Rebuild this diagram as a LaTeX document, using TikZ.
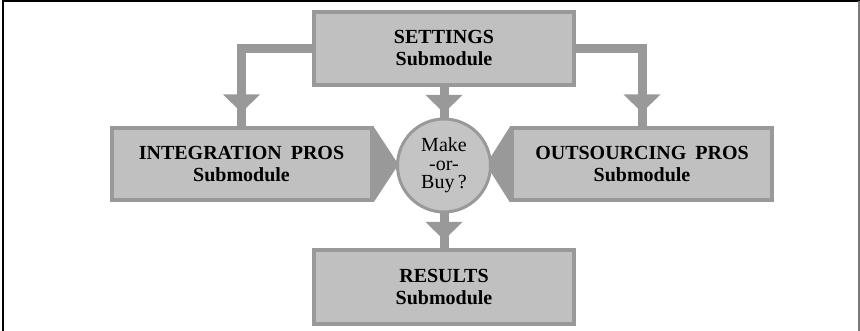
\documentclass[tikz,border=0pt]{standalone}
\usepackage{fontspec}
\setmainfont{Liberation Serif}
\usetikzlibrary{calc}
\definecolor{boxfill}{HTML}{C0C0C0}
\definecolor{boxline}{HTML}{999999}
\definecolor{circfill}{HTML}{C4C4C4}
\tikzset{
  modbox/.style={draw=boxline, fill=boxfill, line width=4pt, inner sep=0pt,
    minimum width=260pt, align=center, font=\fontsize{20}{22}\selectfont\bfseries},
  decision/.style={circle, draw=boxline, fill=circfill, line width=3pt, inner sep=0pt,
    minimum size=93pt, align=center, font=\fontsize{20}{18.5}\selectfont},
  conn/.style={draw=boxline, line width=9pt},
  tri/.style={fill=boxline},
}
\newcommand{\downtri}[1]{\fill[tri] #1 ++(-18.5,0) -- ++(37,0) -- ++(-18.5,18) -- cycle;}
\begin{document}
\begin{tikzpicture}[x=1pt,y=-1pt]
\useasboundingbox (0,0) rectangle (860,331);
% frame
\draw[black, line width=2pt] (2.5,331) -- (2.5,1.5) -- (860,1.5);
\draw[boxline!80!black, line width=1.2pt] (859,1.5) -- (859,331);

% nodes
\node[modbox, minimum height=73pt] (set) at (444,48.5) {SETTINGS\\Submodule};
\node[modbox, minimum height=72pt] (int) at (241.5,164.5) {INTEGRATION\hspace{0.45em}PROS\\Submodule};
\node[modbox, minimum height=72pt] (out) at (642,164.5) {OUTSOURCING\hspace{0.45em}PROS\\Submodule};
\node[modbox, minimum height=74pt] (res) at (444,287) {RESULTS\\Submodule};

% connectors
\draw[conn] (set.west) -| (int.north);
\draw[conn] (set.east) -| (out.north);
\draw[conn] (set.south) -- (444,125);
\draw[conn] (444,205) -- (res.north);

% arrow heads
\downtri{($(int.north)+(0,-32)$)}
\downtri{($(out.north)+(0,-32)$)}
\downtri{($(set.south)+(0,8)$)}
\downtri{($(res.north)+(0,-26)$)}

% side triangles
\fill[tri] (int.north east) -- (int.south east) -- ($(int.east)+(25,0)$) -- cycle;
\fill[tri] (out.north west) -- (out.south west) -- ($(out.west)+(-24,0)$) -- cycle;

% decision circle
\node[decision] (mob) at (444,165.5) {Make\\-or-\\Buy\,?};
\end{tikzpicture}
\end{document}
